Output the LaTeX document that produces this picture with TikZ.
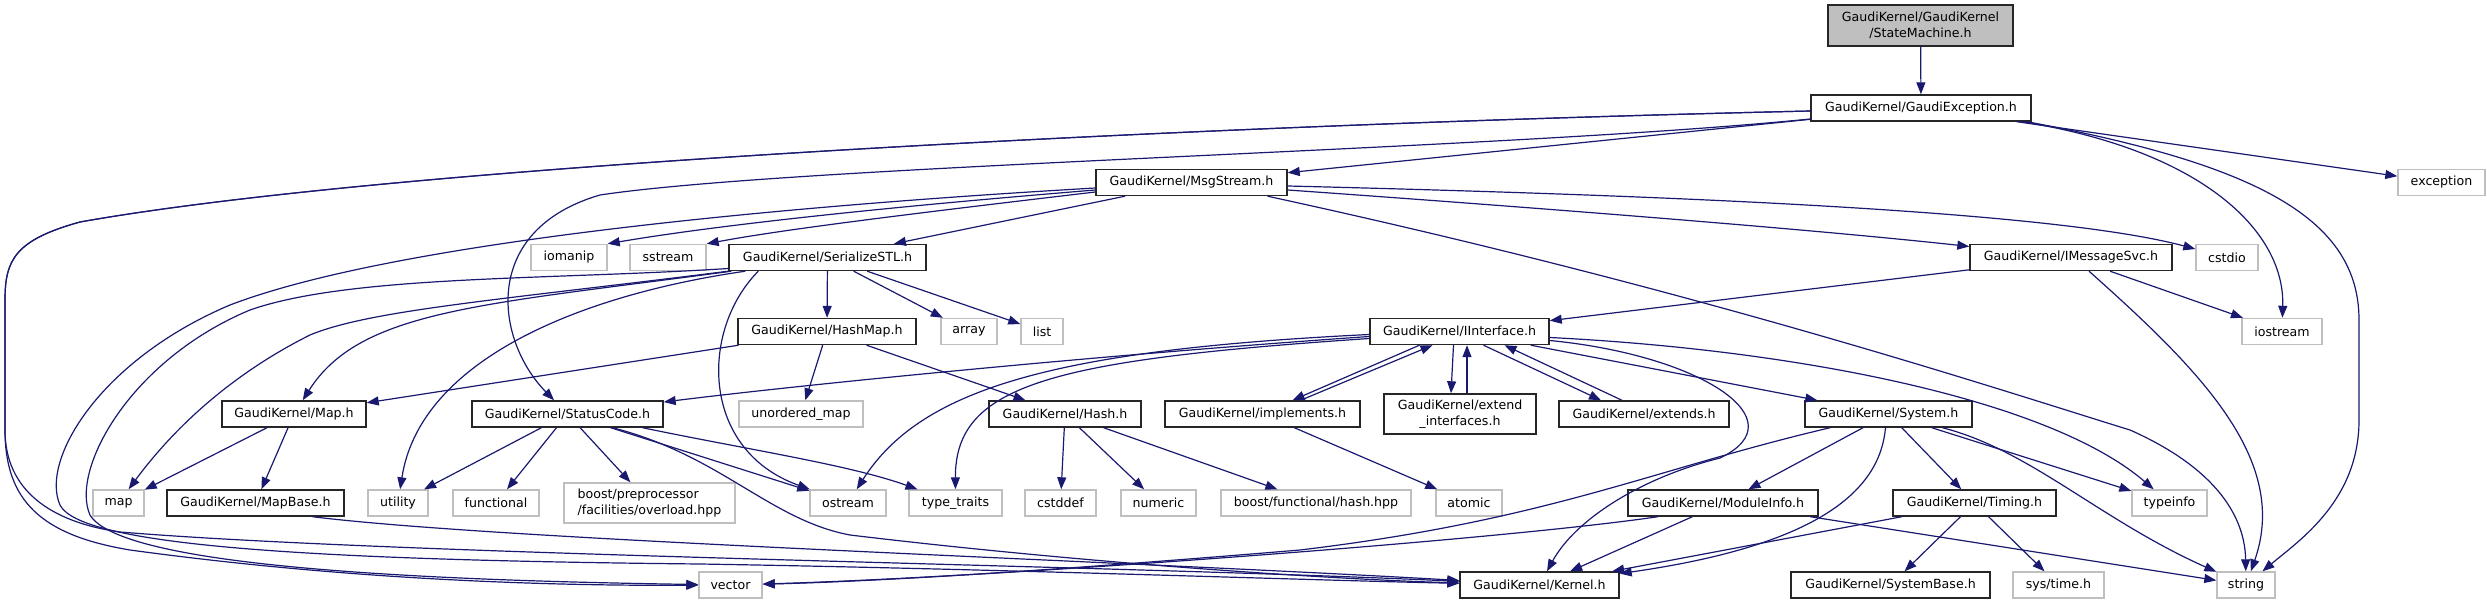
\documentclass[tikz,border=0pt]{standalone}
\usepackage{fontspec}
\setmainfont{DejaVu Sans}
\usetikzlibrary{arrows.meta}
\definecolor{edgec}{HTML}{191970}
\definecolor{gbord}{HTML}{BFBFBF}
\definecolor{rootfill}{HTML}{BFBFBF}
\begin{document}
\begin{tikzpicture}[x=1bp,y=-1bp,
  box/.style={line width=1.4bp, inner sep=0pt, minimum height=26bp, font=\fontsize{12.6bp}{15.5bp}\selectfont, text=black},
  gk/.style={box, draw=black!85, fill=white},
  sysh/.style={box, draw=gbord, fill=white},
  rootn/.style={box, draw=black!85, fill=rootfill},
  conn/.style={draw=edgec, line width=1.2bp, -{Triangle[length=12bp,width=9bp]}}
]
\useasboundingbox (0,0) rectangle (2487,604);
% nodes
\node[rootn, minimum width=185bp, minimum height=41bp, align=center] (sm) at (1920.5,25.5) {GaudiKernel/GaudiKernel\\/StateMachine.h};
\node[gk, minimum width=220bp] (ge) at (1921,108) {GaudiKernel/GaudiException.h};
\node[sysh, minimum width=87bp] (exc) at (2441.5,182.5) {exception};
\node[gk, minimum width=191bp] (ms) at (1191.5,182.5) {GaudiKernel/MsgStream.h};
\node[sysh, minimum width=76bp] (iomanip) at (569,257.5) {iomanip};
\node[sysh, minimum width=76bp] (sstream) at (668,257.5) {sstream};
\node[gk, minimum width=197bp] (ser) at (827.5,257.5) {GaudiKernel/SerializeSTL.h};
\node[gk, minimum width=202bp] (ims) at (2071,257.5) {GaudiKernel/IMessageSvc.h};
\node[sysh, minimum width=62bp] (cstdio) at (2227,257.5) {cstdio};
\node[gk, minimum width=178bp] (hashmap) at (827,331.5) {GaudiKernel/HashMap.h};
\node[sysh, minimum width=56bp] (array) at (969,331.5) {array};
\node[sysh, minimum width=42bp] (list) at (1042,331.5) {list};
\node[gk, minimum width=179bp] (ii) at (1459.5,331.5) {GaudiKernel/IInterface.h};
\node[sysh, minimum width=80bp] (iostream) at (2282,331.5) {iostream};
\node[gk, minimum width=144bp] (maph) at (294,414) {GaudiKernel/Map.h};
\node[gk, minimum width=191bp] (sc) at (567.5,414) {GaudiKernel/StatusCode.h};
\node[sysh, minimum width=124bp] (umap) at (801,414) {unordered\_map};
\node[gk, minimum width=152bp] (hash) at (1065,414) {GaudiKernel/Hash.h};
\node[gk, minimum width=195bp] (impl) at (1262.5,414) {GaudiKernel/implements.h};
\node[gk, minimum width=152bp, minimum height=40bp, align=center] (extif) at (1460,414) {GaudiKernel/extend\\\_interfaces.h};
\node[gk, minimum width=170bp] (exts) at (1644,414) {GaudiKernel/extends.h};
\node[gk, minimum width=167bp] (sys) at (1888.5,414) {GaudiKernel/System.h};
\node[sysh, minimum width=51bp] (map) at (118.5,503) {map};
\node[gk, minimum width=177bp] (mapbase) at (255.5,503) {GaudiKernel/MapBase.h};
\node[sysh, minimum width=60bp] (utility) at (398,503) {utility};
\node[sysh, minimum width=86bp] (functional) at (496,503) {functional};
\node[sysh, minimum width=171bp, minimum height=40bp, align=left] (bpp) at (649.5,503) {boost/preprocessor\\/facilities/overload.hpp};
\node[sysh, minimum width=76bp] (ostream) at (848,503) {ostream};
\node[sysh, minimum width=93bp] (tt) at (955.5,503) {type\_traits};
\node[sysh, minimum width=71bp] (cstddef) at (1060.5,503) {cstddef};
\node[sysh, minimum width=75bp] (numeric) at (1158.5,503) {numeric};
\node[sysh, minimum width=190bp] (bfh) at (1316,503) {boost/functional/hash.hpp};
\node[sysh, minimum width=66bp] (atomic) at (1469,503) {atomic};
\node[gk, minimum width=190bp] (modinfo) at (1723,503) {GaudiKernel/ModuleInfo.h};
\node[gk, minimum width=163bp] (timing) at (1974.5,503) {GaudiKernel/Timing.h};
\node[sysh, minimum width=75bp] (typeinfo) at (2169.5,503) {typeinfo};
\node[sysh, minimum width=63bp] (vector) at (730.5,585) {vector};
\node[gk, minimum width=159bp] (kernel) at (1539.5,585) {GaudiKernel/Kernel.h};
\node[gk, minimum width=199bp] (sysbase) at (1890.5,585) {GaudiKernel/SystemBase.h};
\node[sysh, minimum width=91bp] (systime) at (2058.5,585) {sys/time.h};
\node[sysh, minimum width=58bp] (string) at (2246,585) {string};
% edges: StateMachine / GaudiException
\draw[conn] (sm) -- (ge);
\draw[conn] (ge) -- (ms);
\draw[conn] (ge) -- (exc);
\draw[conn] ([xshift=-10bp]ge.south east) .. controls (2200,150) and (2285,230) .. (iostream);
\draw[conn] ([xshift=-5bp]ge.south east) .. controls (2260,165) and (2359,220) .. (2359,320) -- (2359,420) .. controls (2359,500) and (2300,540) .. (string);
\draw[conn] ([yshift=-11bp]ge.west) .. controls (1500,150) and (800,165) .. (600,195) .. controls (480,230) and (495,340) .. (sc);
\draw[conn] ([yshift=-3bp]ge.west) .. controls (1200,125) and (400,165) .. (80,222) .. controls (15,240) and (5,260) .. (5,300) -- (5,430) .. controls (5,490) and (50,522) .. (120,532) .. controls (400,555) and (1100,565) .. (kernel);
\draw[conn] ([yshift=-3bp]ge.west) .. controls (1200,125) and (400,165) .. (80,222) .. controls (15,240) and (5,260) .. (5,300) -- (5,430) .. controls (5,500) and (40,535) .. (130,550) .. controls (350,580) and (550,586) .. (vector);
% MsgStream
\draw[conn] ([yshift=-5.5bp]ms.west) .. controls (800,205) and (400,240) .. (230,305) .. controls (100,360) and (40,460) .. (60,505) .. controls (80,545) and (300,560) .. (700,564) .. controls (1000,569) and (1300,580) .. (kernel);
\draw[conn] ([yshift=-7.5bp]ms.west) .. controls (850,210) and (700,228) .. (iomanip.north east);
\draw[conn] ([yshift=-9.5bp]ms.west) .. controls (900,215) and (780,230) .. (sstream.north east);
\draw[conn] (ms) -- (ser);
\draw[conn] ([yshift=-7.5bp]ms.east) .. controls (1500,205) and (1800,228) .. (ims);
\draw[conn] ([yshift=-3.5bp]ms.east) .. controls (1650,195) and (2050,210) .. (cstdio);
\draw[conn] ([xshift=76bp]ms.south) .. controls (1700,290) and (2000,390) .. (2130,430) .. controls (2220,470) and (2245,520) .. (string);
% SerializeSTL
\draw[conn] ([yshift=-11bp]ser.west) .. controls (550,280) and (350,275) .. (250,310) .. controls (130,360) and (70,470) .. (90,515) .. controls (120,565) and (400,580) .. (vector);
\draw[conn] (ser.south west) .. controls (500,300) and (370,310) .. (310,335) .. controls (220,380) and (165,440) .. (map);
\draw[conn] ([xshift=3bp]ser.south west) .. controls (480,305) and (360,310) .. (maph);
\draw[conn] ([xshift=17bp]ser.south west) .. controls (580,295) and (420,360) .. (utility);
\draw[conn] ([xshift=30bp]ser.south west) .. controls (700,330) and (700,450) .. (ostream);
\draw[conn] (ser) -- (hashmap);
\draw[conn] (ser) -- (array);
\draw[conn] (ser) -- (list);
% IMessageSvc
\draw[conn] (ims) -- (ii);
\draw[conn] (ims) -- (iostream);
\draw[conn] ([xshift=18bp]ims.south) .. controls (2200,370) and (2290,460) .. (string);
% IInterface
\draw[conn] ([yshift=-5bp]ii.west) .. controls (1100,355) and (800,385) .. (sc);
\draw[conn] ([yshift=-3bp]ii.west) .. controls (1050,350) and (920,390) .. (ostream);
\draw[conn] ([yshift=-7bp]ii.west) .. controls (1050,360) and (955,385) .. (tt);
\draw[conn] ([xshift=-40bp]ii.south) -- ([xshift=30bp]impl.north);
\draw[conn] ([xshift=38bp]impl.north) -- ([xshift=-27bp]ii.south);
\draw[conn] ([xshift=-6bp]ii.south) -- ([xshift=-9bp]extif.north);
\draw[conn] ([xshift=7bp]extif.north) -- ([xshift=7.5bp]ii.south);
\draw[conn] ([xshift=24bp]ii.south) -- ([xshift=-43bp]exts.north);
\draw[conn] ([xshift=-22bp]exts.north) -- ([xshift=45bp]ii.south);
\draw[conn] (ii) -- (sys);
\draw[conn] ([yshift=-6bp]ii.east) .. controls (1800,350) and (2050,400) .. (typeinfo);
\draw[conn] ([yshift=-9bp]ii.east) .. controls (1700,355) and (1800,420) .. (1720,458) .. controls (1640,478) and (1575,520) .. (kernel);
% System
\draw[conn] (sys) -- (modinfo);
\draw[conn] (sys) -- (timing);
\draw[conn] (sys) -- (typeinfo);
\draw[conn] (sys) .. controls (2030,450) and (2100,520) .. (string);
\draw[conn] ([xshift=-3bp]sys.south) .. controls (1880,490) and (1820,545) .. (kernel);
\draw[conn] (sys) .. controls (1650,470) and (1550,520) .. (1300,550) .. controls (1000,575) and (850,582) .. (vector);
% ModuleInfo
\draw[conn] ([xshift=-65bp]modinfo.south) .. controls (1500,540) and (1000,577) .. (vector);
\draw[conn] (modinfo) -- (kernel);
\draw[conn] (modinfo) -- (string);
% Timing
\draw[conn] (timing) -- (sysbase);
\draw[conn] (timing) -- (systime);
\draw[conn] (timing) -- (kernel);
% HashMap, Hash, implements
\draw[conn] (hashmap) -- (maph);
\draw[conn] (hashmap) -- (umap);
\draw[conn] (hashmap) -- (hash);
\draw[conn] (hash) -- (cstddef);
\draw[conn] (hash) -- (numeric);
\draw[conn] (hash) -- (bfh);
\draw[conn] (impl) -- (atomic);
% Map, MapBase
\draw[conn] (maph) -- (map);
\draw[conn] (maph) -- (mapbase);
\draw[conn] ([xshift=57bp]mapbase.south) .. controls (500,540) and (1100,560) .. (kernel);
% StatusCode
\draw[conn] (sc) -- (utility);
\draw[conn] (sc) -- (functional);
\draw[conn] (sc) -- (bpp);
\draw[conn] (sc) -- (ostream);
\draw[conn] ([xshift=75bp]sc.south) .. controls (750,450) and (850,465) .. (tt);
\draw[conn] ([xshift=45bp]sc.south) .. controls (720,455) and (770,520) .. (850,535) .. controls (1100,565) and (1350,580) .. (kernel);
\end{tikzpicture}
\end{document}
